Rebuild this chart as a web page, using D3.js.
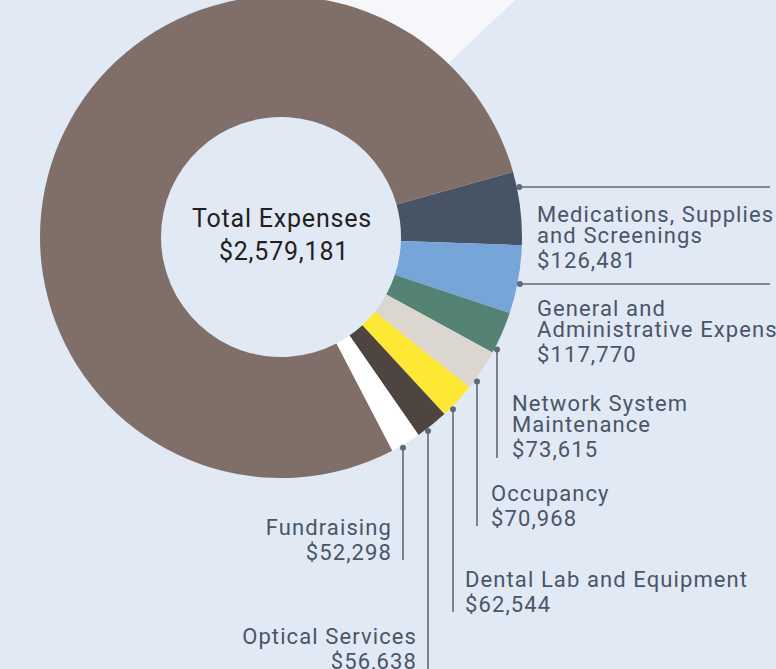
<!DOCTYPE html>
<html><head><meta charset="utf-8">
<script src="https://cdn.jsdelivr.net/npm/d3@7"></script>
<style>html,body{margin:0;padding:0;background:#e1e9f5;overflow:hidden}</style>
</head><body>
<svg id="c" width="776" height="669"></svg>
<script>
const categories = ["Medications, Supplies and Screenings","General and Administrative Expenses","Network System Maintenance","Occupancy","Dental Lab and Equipment","Optical Services","Fundraising","Program Services"];
const values = [126481,117770,73615,70968,62544,56638,52298,2018867];
const colors = ["#465465","#76a6d9","#548373","#dbd6cf","#fde834","#4f4540","#ffffff","#806e68"];
const labelLines = [["Medications, Supplies","and Screenings"],["General and","Administrative Expenses"],["Network System","Maintenance"],["Occupancy"],["Dental Lab and Equipment"],["Optical Services"],["Fundraising"],[]];
const totalLabel = ["Total Expenses","$2,579,181"];

// label layout: leader type, leader coordinate, leader end, text x, anchor, first baseline
const layout = [
  {type:"h", y:187, end:770, tx:537, anchor:"start", by:222},
  {type:"h", y:284, end:770, tx:537, anchor:"start", by:316},
  {type:"v", x:497, end:458, tx:512, anchor:"start", by:411},
  {type:"v", x:477, end:526, tx:491, anchor:"start", by:501},
  {type:"v", x:453, end:612, tx:465, anchor:"start", by:587},
  {type:"v", x:428, end:669, tx:417, anchor:"end", by:644},
  {type:"v", x:403, end:560, tx:392, anchor:"end", by:535},
  null
];

const W=776,H=669, cx=281, cy=237, R=241, r0=120, bg="#e1e9f5";
const svg=d3.select("#c");
svg.append("rect").attr("width",W).attr("height",H).attr("fill",bg);
svg.append("polygon").attr("points","330,0 515,0 300,205").attr("fill","#f5f7fb");

const fmt = d3.format("$,");
const data = categories.map((c,i)=>({name:c,value:values[i],color:colors[i],lines:labelLines[i],lay:layout[i]}));
const start = 74.3*Math.PI/180;
const pie = d3.pie().sort(null).value(d=>d.value).startAngle(start).endAngle(start+2*Math.PI);
const arc = d3.arc().innerRadius(r0).outerRadius(R);
const g = svg.append("g").attr("transform",`translate(${cx},${cy})`);
g.append("circle").attr("r",r0+1).attr("fill",bg);
g.selectAll("path").data(pie(data)).join("path").attr("d",arc).attr("fill",d=>d.data.color);

const lc="#5f6979", tc="#4a5567", fam="Roboto, 'DejaVu Sans', sans-serif";
const RL = R+2.5;
data.forEach(d=>{
  const L=d.lay; if(!L) return;
  let px,py,x2,y2;
  if(L.type==="h"){ py=L.y; px=cx+Math.sqrt(RL*RL-(py-cy)**2); x2=L.end; y2=py; }
  else { px=L.x; py=cy+Math.sqrt(RL*RL-(px-cx)**2); x2=px; y2=L.end; }
  svg.append("line").attr("x1",px).attr("y1",py).attr("x2",x2).attr("y2",y2).attr("stroke",lc).attr("stroke-width",1.6);
  svg.append("circle").attr("cx",px).attr("cy",py).attr("r",3).attr("fill",lc);
  const t=svg.append("text").attr("x",L.tx).attr("text-anchor",L.anchor).attr("fill",tc)
    .attr("font-family",fam).attr("font-size",22).attr("letter-spacing",1.1);
  d.lines.forEach((ln,i)=>t.append("tspan").attr("x",L.tx).attr("y",L.by+i*21).text(ln));
  t.append("tspan").attr("x",L.tx).attr("y",L.by+(d.lines.length-1)*21+25).text(fmt(d.value));
});
const ct=svg.append("text").attr("text-anchor","middle").attr("fill","#231f20").attr("font-family",fam).attr("font-size",25).attr("letter-spacing",0.8);
ct.append("tspan").attr("x",cx+1).attr("y",227).text(totalLabel[0]);
ct.append("tspan").attr("x",cx+3).attr("y",260).text(totalLabel[1]);
</script></body></html>
